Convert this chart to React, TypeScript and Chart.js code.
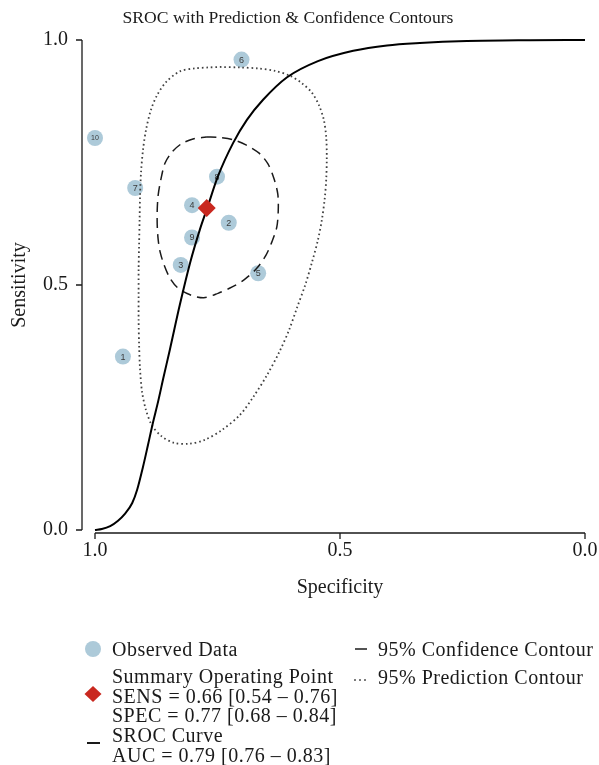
import React, { useEffect, useRef } from "react";
import { Chart, registerables } from "chart.js";

Chart.register(...registerables);

// ---------- data ----------
const studyIds = ["1", "2", "3", "4", "5", "6", "7", "8", "9", "10"];
const studySpec = [0.943, 0.727, 0.825, 0.802, 0.667, 0.701, 0.918, 0.751, 0.802, 1.0];
const studySens = [0.354, 0.627, 0.541, 0.663, 0.524, 0.96, 0.698, 0.721, 0.597, 0.8];

const summarySpec = [0.772];
const summarySens = [0.657];

const srocSpec = [1.0, 0.986, 0.969, 0.953, 0.939, 0.924, 0.914, 0.902, 0.892, 0.882, 0.871, 0.861, 0.847, 0.827, 0.806, 0.786, 0.771, 0.749, 0.718, 0.69, 0.657, 0.608, 0.545, 0.473, 0.404, 0.337, 0.241, 0.112, 0.0];
const srocSens = [0.0, 0.002, 0.008, 0.019, 0.033, 0.055, 0.082, 0.129, 0.173, 0.218, 0.263, 0.308, 0.369, 0.459, 0.545, 0.613, 0.657, 0.722, 0.79, 0.837, 0.878, 0.924, 0.957, 0.978, 0.989, 0.994, 0.998, 0.9996, 1.0];

const confSpec = [0.773, 0.745, 0.72, 0.692, 0.665, 0.647, 0.635, 0.627, 0.626, 0.629, 0.639, 0.651, 0.669, 0.694, 0.72, 0.749, 0.778, 0.806, 0.831, 0.847, 0.859, 0.867, 0.871, 0.873, 0.873, 0.871, 0.865, 0.857, 0.843, 0.824, 0.8, 0.773];
const confSens = [0.802, 0.801, 0.797, 0.786, 0.769, 0.747, 0.718, 0.686, 0.653, 0.618, 0.588, 0.561, 0.535, 0.512, 0.496, 0.483, 0.474, 0.48, 0.494, 0.514, 0.541, 0.567, 0.592, 0.622, 0.653, 0.684, 0.718, 0.749, 0.771, 0.788, 0.798, 0.802];

const predSpec = [0.745, 0.704, 0.667, 0.633, 0.602, 0.578, 0.557, 0.543, 0.533, 0.528, 0.527, 0.528, 0.531, 0.537, 0.545, 0.557, 0.571, 0.588, 0.604, 0.624, 0.649, 0.676, 0.704, 0.741, 0.776, 0.808, 0.839, 0.865, 0.884, 0.896, 0.904, 0.908, 0.91, 0.911, 0.911, 0.911, 0.91, 0.909, 0.908, 0.906, 0.902, 0.896, 0.886, 0.873, 0.855, 0.827, 0.796, 0.769, 0.745];
const predSens = [0.945, 0.944, 0.942, 0.937, 0.927, 0.912, 0.892, 0.867, 0.837, 0.8, 0.759, 0.718, 0.678, 0.633, 0.592, 0.547, 0.5, 0.453, 0.408, 0.363, 0.316, 0.273, 0.235, 0.204, 0.184, 0.176, 0.178, 0.192, 0.214, 0.245, 0.282, 0.327, 0.378, 0.429, 0.48, 0.531, 0.582, 0.633, 0.684, 0.731, 0.776, 0.816, 0.857, 0.888, 0.914, 0.936, 0.942, 0.944, 0.945];

const axisTicks = [0, 0.5, 1];
const chartTitle = "SROC with Prediction & Confidence Contours";
const xTitle = "Specificity";
const yTitle = "Sensitivity";
const legendObserved = "Observed Data";
const legendSummary = ["Summary Operating Point", "SENS = 0.66 [0.54 \u2013 0.76]", "SPEC = 0.77 [0.68 \u2013 0.84]"];
const legendCurve = ["SROC Curve", "AUC = 0.79 [0.76 \u2013 0.83]"];
const legendConf = "95% Confidence Contour";
const legendPred = "95% Prediction Contour";

// ---------- styles ----------
const SERIF = "'Liberation Serif', 'Times New Roman', serif";
const POINT_BLUE = "#adcad9";
const SUMMARY_RED = "#c9281f";
const INK = "#1a1a1a";

const zip = (xs: number[], ys: number[]) => xs.map((x, i) => ({ x, y: ys[i] }));

const decorPlugin = {
  id: "decor",
  afterDatasetDraw(chart: any, args: any) {
    if (args.index !== 0) return;
    const ctx = chart.ctx;
    const meta = chart.getDatasetMeta(0);
    ctx.save();
    ctx.fillStyle = "#3a3a3a";
    ctx.textAlign = "center";
    ctx.textBaseline = "middle";
    meta.data.forEach((el: any, i: number) => {
      const label = studyIds[i];
      ctx.font = (label.length > 1 ? "7px" : "9px") + " 'Liberation Sans', Arial, sans-serif";
      ctx.fillText(label, el.x, el.y + 0.5);
    });
    ctx.restore();
  },
  afterDraw(chart: any) {
    const ctx = chart.ctx;
    const xs = chart.scales.x;
    const ys = chart.scales.y;
    const area = chart.chartArea;
    ctx.save();
    // axes (R style)
    ctx.strokeStyle = INK;
    ctx.lineWidth = 1.3;
    const ax = area.left - 13;
    ctx.beginPath();
    ctx.moveTo(ax, ys.getPixelForValue(1));
    ctx.lineTo(ax, ys.getPixelForValue(0));
    axisTicks.forEach((t) => {
      const py = ys.getPixelForValue(t);
      ctx.moveTo(ax, py);
      ctx.lineTo(ax - 6, py);
    });
    const ay = area.bottom + 3;
    ctx.moveTo(xs.getPixelForValue(1), ay);
    ctx.lineTo(xs.getPixelForValue(0), ay);
    axisTicks.forEach((t) => {
      const px = xs.getPixelForValue(t);
      ctx.moveTo(px, ay);
      ctx.lineTo(px, ay + 6);
    });
    ctx.stroke();

    // title
    ctx.fillStyle = INK;
    ctx.font = "17.6px " + SERIF;
    ctx.textAlign = "center";
    ctx.textBaseline = "middle";
    ctx.fillText(chartTitle, 288, 18);

    // legend
    ctx.textAlign = "left";
    ctx.font = "20px " + SERIF;
    try {
      (ctx as any).letterSpacing = "0.5px";
    } catch (e) {}
    const tx = 112;
    // observed
    ctx.fillStyle = POINT_BLUE;
    ctx.beginPath();
    ctx.arc(93, 649, 8, 0, Math.PI * 2);
    ctx.fill();
    ctx.fillStyle = INK;
    ctx.fillText(legendObserved, tx, 651);
    // summary
    ctx.fillStyle = SUMMARY_RED;
    ctx.beginPath();
    ctx.moveTo(93, 686);
    ctx.lineTo(101.5, 694);
    ctx.lineTo(93, 702);
    ctx.lineTo(84.5, 694);
    ctx.closePath();
    ctx.fill();
    ctx.fillStyle = INK;
    legendSummary.forEach((s, i) => ctx.fillText(s, tx, 678 + i * 19.5));
    // curve
    ctx.strokeStyle = INK;
    ctx.lineWidth = 2;
    ctx.beginPath();
    ctx.moveTo(87, 743);
    ctx.lineTo(100, 743);
    ctx.stroke();
    legendCurve.forEach((s, i) => ctx.fillText(s, tx, 737 + i * 19.5));
    // right column
    ctx.lineWidth = 1.5;
    ctx.beginPath();
    ctx.moveTo(355, 649);
    ctx.lineTo(367, 649);
    ctx.stroke();
    ctx.fillText(legendConf, 378, 651);
    ctx.fillStyle = "#444";
    [355, 360, 365].forEach((dx) => {
      ctx.beginPath();
      ctx.arc(dx, 680, 0.95, 0, Math.PI * 2);
      ctx.fill();
    });
    ctx.fillStyle = INK;
    ctx.fillText(legendPred, 378, 679);
    ctx.restore();
  },
};

export default function App() {
  const ref = useRef<HTMLCanvasElement | null>(null);
  useEffect(() => {
    if (!ref.current) return;
    const chart = new Chart(ref.current, {
      type: "scatter",
      data: {
        datasets: [
          {
            label: "Observed Data",
            data: zip(studySpec, studySens),
            pointRadius: 8,
            pointBackgroundColor: POINT_BLUE,
            pointBorderWidth: 0,
            showLine: false,
            order: 5,
            clip: false,
          } as any,
          {
            label: "95% Prediction Contour",
            data: zip(predSpec, predSens),
            showLine: true,
            pointRadius: 0,
            borderColor: "#404040",
            borderWidth: 1.8,
            borderDash: [1.6, 2.9],
            tension: 0.3,
            order: 4,
            clip: false,
          },
          {
            label: "95% Confidence Contour",
            data: zip(confSpec, confSens),
            showLine: true,
            pointRadius: 0,
            borderColor: INK,
            borderWidth: 1.5,
            borderDash: [10, 6],
            tension: 0.3,
            order: 3,
            clip: false,
          },
          {
            label: "SROC Curve",
            data: zip(srocSpec, srocSens),
            showLine: true,
            pointRadius: 0,
            borderColor: "#000",
            borderWidth: 2,
            cubicInterpolationMode: "monotone",
            order: 2,
            clip: false,
          },
          {
            label: "Summary Operating Point",
            data: zip(summarySpec, summarySens),
            pointStyle: "rectRot",
            pointRadius: 9,
            pointBackgroundColor: SUMMARY_RED,
            pointBorderWidth: 0,
            showLine: false,
            order: 1,
            clip: false,
          },
        ],
      },
      options: {
        animation: false,
        responsive: false,
        layout: { padding: { top: 40, right: 14, left: 0, bottom: 165 } },
        plugins: { legend: { display: false }, tooltip: { enabled: false }, title: { display: false } },
        scales: {
          x: {
            type: "linear",
            reverse: true,
            min: 0,
            max: 1,
            grid: { display: false, drawTicks: false },
            border: { display: false },
            ticks: {
              stepSize: 0.5,
              padding: 9,
              color: INK,
              font: { family: SERIF, size: 20 },
              callback: (v: any) => Number(v).toFixed(1),
            },
            title: { display: true, text: xTitle, color: INK, font: { family: SERIF, size: 20 }, padding: { top: 0, bottom: 0 } },
            afterFit: (s: any) => {
              s.height = 70;
              s.paddingLeft = 0;
              s.paddingRight = 0;
            },
          },
          y: {
            type: "linear",
            min: 0,
            max: 1,
            grid: { display: false, drawTicks: false },
            border: { display: false },
            ticks: {
              stepSize: 0.5,
              padding: 27,
              color: INK,
              font: { family: SERIF, size: 20 },
              callback: (v: any) => Number(v).toFixed(1),
            },
            title: { display: true, text: yTitle, color: INK, font: { family: SERIF, size: 20 }, padding: { top: 8, bottom: 0 } },
            afterFit: (s: any) => {
              s.width = 95;
              s.paddingTop = 0;
              s.paddingBottom = 0;
            },
          },
        },
      },
      plugins: [decorPlugin],
    } as any);
    return () => chart.destroy();
  }, []);
  return (
    <div style={{ position: "absolute", left: 0, top: 0, width: 599, height: 765, background: "#fff" }}>
      <canvas ref={ref} width={599} height={765} />
    </div>
  );
}
